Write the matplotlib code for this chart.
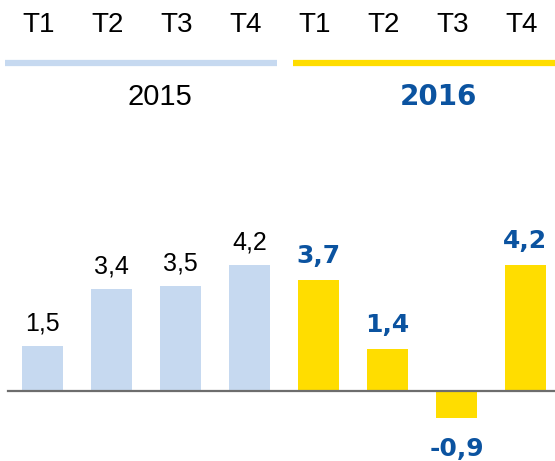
import matplotlib
matplotlib.use("Agg")
import matplotlib.pyplot as plt

quarters = ["T1", "T2", "T3", "T4", "T1", "T2", "T3", "T4"]
years = ["2015", "2016"]
values_2015 = [1.5, 3.4, 3.5, 4.2]
values_2016 = [3.7, 1.4, -0.9, 4.2]
labels_2015 = ["1,5", "3,4", "3,5", "4,2"]
labels_2016 = ["3,7", "1,4", "-0,9", "4,2"]

C_LIGHT = "#c6d9f0"
C_YELLOW = "#ffdd00"
C_BLUE = "#0b53a0"

plt.rcParams['font.family'] = ['Liberation Sans', 'DejaVu Sans']

fig = plt.figure(figsize=(5.55, 4.61), dpi=100)
ax = fig.add_axes([0, 0, 1, 1])
ax.set_xlim(-42.5 / 69, (555 - 42.5) / 69)
ax.set_ylim(-(461 - 391) / 30, 391 / 30)
ax.axis("off")

x15 = list(range(4))
x16 = [i + 4 for i in range(4)]
w = 41 / 69
ax.bar(x15, values_2015, width=w, color=C_LIGHT, zorder=2)
ax.bar(x16, values_2016, width=w, color=C_YELLOW, zorder=2)

# baseline
ax.plot([-34.5 / 69, (555 - 42.5) / 69], [0, 0], color="#6d6d6d", lw=1.6, zorder=3)

# value labels
for x, v, lab in zip(x15, values_2015, labels_2015):
    ax.text(x, v + 0.53, lab, ha="center", va="baseline", fontsize=18, color="black")
for x, v, lab in zip(x16, values_2016, labels_2016):
    if v >= 0:
        ax.text(x, v + 0.57, lab, ha="center", va="baseline", fontsize=18,
                color=C_BLUE, fontweight="bold", family="DejaVu Sans")
    else:
        ax.text(x, v - 0.62, lab, ha="center", va="top", fontsize=18,
                color=C_BLUE, fontweight="bold", family="DejaVu Sans")

# header quarter labels
for i, q in enumerate(quarters):
    ax.text(i - 0.06, (391 - 25) / 30, q, ha="center", va="center", fontsize=20, color="black")

# year separator lines
ax.plot([(5 - 42.5) / 69, (277 - 42.5) / 69], [(391 - 63) / 30] * 2, color=C_LIGHT,
        lw=4.5, solid_capstyle="butt")
ax.plot([(293 - 42.5) / 69, (555 - 42.5) / 69], [(391 - 63) / 30] * 2, color=C_YELLOW,
        lw=4.5, solid_capstyle="butt")

# year labels
ax.text((160 - 42.5) / 69, (391 - 97) / 30, years[0], ha="center", va="center",
        fontsize=21, color="black")
ax.text((438 - 42.5) / 69, (391 - 97) / 30, years[1], ha="center", va="center",
        fontsize=20, color=C_BLUE, fontweight="bold", family="DejaVu Sans")

fig.savefig("out.png", dpi=100)
